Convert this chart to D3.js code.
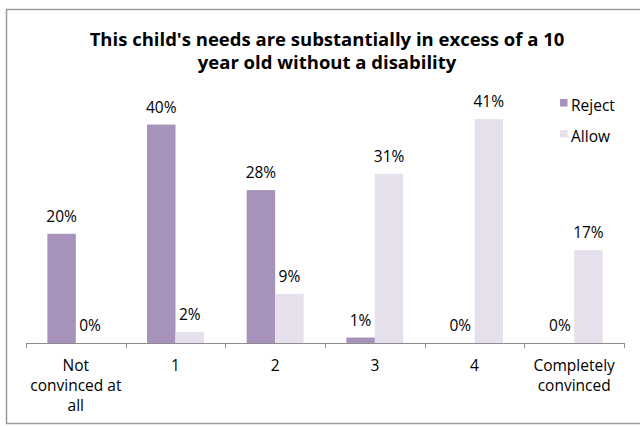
<!DOCTYPE html>
<html>
<head>
<meta charset="utf-8">
<script src="https://cdn.jsdelivr.net/npm/d3@7"></script>
<style>
  html, body { margin: 0; padding: 0; background: #fff; }
  svg { display: block; font-family: "Open Sans", sans-serif; }
</style>
</head>
<body>
<svg id="chart" width="640" height="426"></svg>
<script>
const titleLines = ["This child's needs are substantially in excess of a 10", "year old without a disability"];
const categories = ["Not convinced at all", "1", "2", "3", "4", "Completely convinced"];
const categoryLines = [["Not", "convinced at", "all"], ["1"], ["2"], ["3"], ["4"], ["Completely", "convinced"]];
const seriesNames = ["Reject", "Allow"];
const rejectValues = [0.20, 0.40, 0.28, 0.01, 0.00, 0.00];
const allowValues = [0.00, 0.02, 0.09, 0.31, 0.41, 0.17];
const seriesColors = ["#A692BA", "#E6E0EC"];

const svg = d3.select("#chart");

// outer border
svg.append("rect").attr("x", 6.5).attr("y", 9.5).attr("width", 640).attr("height", 414)
  .attr("fill", "#fff").attr("stroke", "#9a9a9a").attr("stroke-width", 1.5);

// title
const title = svg.append("text").attr("text-anchor", "middle").attr("font-weight", "bold")
  .attr("font-size", 18.5).attr("fill", "#000");
titleLines.forEach((t, i) => {
  title.append("tspan").attr("x", 327).attr("y", 46 + i * 23).text(t);
});

const x0 = d3.scaleBand().domain(categories).range([26, 624]).padding(0);
const x1 = d3.scaleBand().domain(seriesNames).range([0, x0.bandwidth()]).paddingInner(0).paddingOuter(0.75);
const y = d3.scaleLinear().domain([0, 0.45]).range([343, 97.3]);

const rows = categories.map((c, i) => ({ c, vals: [rejectValues[i], allowValues[i]] }));

const groups = svg.append("g").selectAll("g").data(rows).join("g")
  .attr("transform", d => `translate(${x0(d.c)},0)`);

groups.selectAll("rect").data(d => d.vals.map((v, k) => ({ s: seriesNames[k], v, k })))
  .join("rect")
  .attr("x", d => x1(d.s))
  .attr("y", d => y(d.v))
  .attr("width", x1.bandwidth())
  .attr("height", d => y(0) - y(d.v))
  .attr("fill", d => seriesColors[d.k]);

groups.selectAll("text.lbl").data(d => d.vals.map((v, k) => ({ s: seriesNames[k], v, k })))
  .join("text").attr("class", "lbl")
  .attr("x", d => x1(d.s) + x1.bandwidth() / 2)
  .attr("y", d => y(d.v) - 12)
  .attr("text-anchor", "middle")
  .attr("font-size", 15.5)
  .attr("fill", "#000")
  .text(d => Math.round(d.v * 100) + "%");

// axis line
const axisG = svg.append("g");
axisG.append("line").attr("x1", x0.range()[0]).attr("x2", x0.range()[1])
  .attr("y1", y(0) + 0.5).attr("y2", y(0) + 0.5).attr("stroke", "#8c8c8c").attr("stroke-width", 1);
const tickXs = categories.map(c => x0(c)).concat([x0.range()[1]]);
axisG.selectAll("line.tick").data(tickXs).join("line").attr("class", "tick")
  .attr("x1", d => Math.round(d) + 0.5).attr("x2", d => Math.round(d) + 0.5)
  .attr("y1", y(0)).attr("y2", y(0) + 5).attr("stroke", "#8c8c8c");

// category labels
const catText = svg.append("g").selectAll("text").data(categories).join("text")
  .attr("text-anchor", "middle").attr("font-size", 15.5).attr("fill", "#000");
catText.each(function (c, i) {
  const t = d3.select(this);
  categoryLines[i].forEach((ln, j) => {
    t.append("tspan").attr("x", x0(c) + x0.bandwidth() / 2).attr("y", 371 + j * 20).text(ln);
  });
});

// legend
const legend = svg.append("g").selectAll("g").data(seriesNames).join("g")
  .attr("transform", (d, i) => `translate(560, ${99 + i * 31})`);
legend.append("rect").attr("width", 7.5).attr("height", 7.5).attr("fill", (d, i) => seriesColors[i]);
legend.append("text").attr("x", 11).attr("y", 11.5).attr("font-size", 15.5).attr("fill", "#000").text(d => d);
</script>
</body>
</html>
